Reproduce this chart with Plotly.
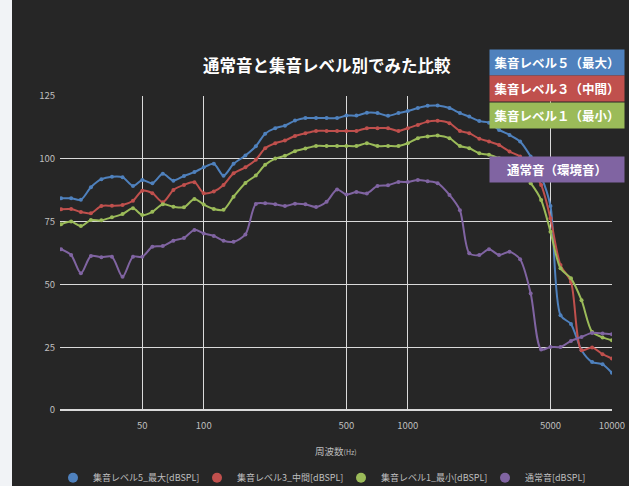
import plotly.graph_objects as go
import math

freq = [20, 22.4, 25, 28, 31.5, 35.5, 40, 45, 50, 56, 63, 71, 80, 90, 100, 112, 125, 140, 160, 180,
        200, 224, 250, 280, 315, 355, 400, 450, 500, 560, 630, 710, 800, 900, 1000, 1120, 1250, 1400,
        1600, 1800, 2000, 2240, 2500, 2800, 3150, 3550, 4000, 4500, 5000, 5600, 6300, 7100, 8000,
        9000, 10000]

level5 = [84.3, 84.3, 83.7, 88.7, 91.9, 92.9, 92.7, 89.2, 91.6, 90.3, 94.0, 91.3, 93.2, 94.7, 96.6,
          98.0, 93.3, 98.0, 101.3, 105.0, 110.0, 112.2, 113.2, 115.2, 116.2, 116.2, 116.2, 116.2,
          117.2, 117.2, 118.3, 118.2, 117.1, 118.2, 119.0, 120.2, 121.1, 121.2, 120.2, 118.2, 116.8,
          115.0, 114.4, 111.5, 109.5, 106.9, 100.9, 93.0, 81.2, 37.7, 34.2, 23.8, 19.1, 18.2, 14.8]

level3 = [79.9, 80.0, 78.8, 78.3, 81.2, 81.3, 81.6, 83.3, 87.3, 86.3, 82.7, 87.6, 89.6, 90.7, 86.3,
          87.0, 89.6, 94.2, 96.6, 99.6, 104.2, 106.2, 107.3, 109.1, 110.2, 111.1, 111.1, 111.1,
          111.1, 111.1, 112.2, 112.2, 112.2, 111.1, 112.2, 113.5, 114.8, 115.1, 114.2, 111.1, 110.2,
          108.0, 106.9, 105.5, 102.9, 100.9, 96.0, 89.6, 76.3, 57.7, 51.0, 23.8, 24.9, 22.2, 20.5]

level1 = [73.9, 75.0, 73.2, 75.6, 75.5, 76.7, 78.0, 80.3, 77.6, 78.9, 81.9, 80.9, 80.7, 84.0, 81.8,
          80.0, 79.7, 84.9, 90.4, 93.4, 97.6, 100.1, 101.2, 103.0, 104.1, 105.1, 105.1, 105.1,
          105.1, 105.1, 106.2, 105.1, 105.1, 105.1, 106.2, 108.2, 108.9, 109.3, 108.2, 105.1, 104.2,
          102.2, 101.6, 100.2, 98.0, 95.0, 90.3, 83.6, 71.0, 56.4, 52.4, 43.7, 31.1, 28.9, 27.8]

normal = [64.0, 61.7, 54.4, 61.3, 60.8, 61.0, 53.0, 61.0, 61.0, 65.0, 65.3, 67.4, 68.5, 71.7, 70.3,
          69.3, 67.4, 67.0, 69.9, 82.0, 82.3, 81.9, 81.2, 82.1, 81.9, 80.8, 82.9, 87.8, 85.8, 86.8,
          86.2, 89.2, 89.5, 90.8, 90.8, 91.6, 91.1, 90.3, 85.6, 79.5, 62.4, 61.7, 64.0, 61.7, 63.0,
          60.0, 46.4, 24.1, 25.1, 25.1, 27.5, 29.1, 30.7, 30.5, 30.2]

series_names = ["集音レベル5_最大[dBSPL]", "集音レベル3_中間[dBSPL]", "集音レベル1_最小[dBSPL]", "通常音[dBSPL]"]
box_labels = ["集音レベル５（最大）", "集音レベル３（中間）", "集音レベル１（最小）", "通常音（環境音）"]
title_text = "通常音と集音レベル別でみた比較"
x_title = "周波数"
x_ticks = [50, 100, 500, 1000, 5000, 10000]
y_ticks = [0, 25, 50, 75, 100, 125]

colors = ["#4F81BD", "#C0504D", "#9BBB59", "#8064A2"]
all_series = [level5, level3, level1, normal]

FONT = "Noto Sans CJK JP"
W, H = 629, 486
L, R, T, B = 60, 17, 96, 76
PW, PH = W - L - R, H - T - B


def px(xp):
    return (xp - L) / PW


def py(yp):
    return (H - B - yp) / PH


fig = go.Figure()

for name, vals, c in zip(series_names, all_series, colors):
    fig.add_trace(go.Scatter(
        x=freq, y=vals, mode="lines+markers", name=name, legendgroup=name, showlegend=False,
        line=dict(color=c, width=2, shape="spline", smoothing=0.8),
        marker=dict(color=c, size=4),
        hoverinfo="x+y",
    ))

for name, c in zip(series_names, colors):
    fig.add_trace(go.Scatter(
        x=[None], y=[None], mode="markers", name=name, legendgroup=name,
        marker=dict(color=c, size=10, symbol="circle"),
    ))

annotations = []
annotations.append(dict(
    text="<b>" + title_text + "</b>", xref="paper", yref="paper", x=px(327), y=py(65.5),
    showarrow=False, font=dict(family=FONT, size=16.5, color="#ffffff"),
    xanchor="center", yanchor="middle",
))

box_centers_y = [62.5, 88.8, 115.5, 169.2]
anchor_idx = [38, 39, 40, 39]
tail_y = [68.3, 93.3, 120.0, 176.7]
box_x0, box_x1 = 490, 624
for lab, c, cy in zip(box_labels, colors, box_centers_y):
    annotations.append(dict(
        text="<b>" + lab + "</b>", xref="paper", yref="paper",
        x=px((box_x0 + box_x1) / 2), y=py(cy), showarrow=False,
        xanchor="center", yanchor="middle",
        width=box_x1 - box_x0, height=25, borderpad=0,
        bgcolor=c, font=dict(family=FONT, size=12.5, color="#ffffff"),
    ))

xr0, xr1 = 1.2956, 4.0005
yr0, yr1 = 0, 125
for vals, c, k, ty in zip(all_series, colors, anchor_idx, tail_y):
    hx = L + (math.log10(freq[k]) - xr0) / (xr1 - xr0) * PW
    hy = T + (yr1 - vals[k]) / (yr1 - yr0) * PH
    annotations.append(dict(
        text="", x=freq[k], y=vals[k], xref="x", yref="y",
        showarrow=True, arrowhead=0, arrowwidth=1, arrowcolor=c,
        ax=box_x0 - hx, ay=ty - hy, axref="pixel", ayref="pixel", standoff=3,
    ))

annotations.append(dict(
    text=x_title + "<span style='font-size:7px'>(Hz)</span>", xref="paper", yref="paper",
    x=px(336), y=py(451), showarrow=False, xanchor="center", yanchor="middle",
    font=dict(family=FONT, size=9.5, color="#bfbfbf"),
))

fig.update_layout(
    width=W, height=H,
    margin=dict(l=L, r=R, t=T, b=B, pad=0, autoexpand=False),
    paper_bgcolor="#262626", plot_bgcolor="#262626",
    font=dict(family=FONT, size=9.5, color="#bfbfbf"),
    showlegend=True,
    legend=dict(
        orientation="h", x=px(53), y=py(477.7), xanchor="left", yanchor="middle",
        font=dict(family=FONT, size=9, color="#bfbfbf"),
        bgcolor="rgba(0,0,0,0)", entrywidth=99, entrywidthmode="pixels",
        itemclick=False, itemdoubleclick=False,
    ),
    annotations=annotations,
    shapes=[dict(
        type="rect", xref="paper", yref="paper",
        x0=px(-2), x1=px(12), y0=py(H + 2), y1=py(-2),
        fillcolor="#f1f3f6", line=dict(width=0), layer="above",
    )],
    hovermode="closest",
)

fig.update_xaxes(
    type="log", range=[xr0, xr1], tickvals=x_ticks, ticktext=[str(v) for v in x_ticks],
    showgrid=True, gridcolor="#d9d9d9", gridwidth=1, zeroline=False, showline=False,
    ticks="", tickfont=dict(family=FONT, size=9.5, color="#bfbfbf"), ticklabelstandoff=8,
)
fig.update_yaxes(
    range=[yr0, yr1], tickvals=y_ticks, showgrid=True, gridcolor="#d9d9d9", gridwidth=1,
    zeroline=True, zerolinecolor="#d9d9d9", zerolinewidth=2, showline=False,
    ticks="", tickfont=dict(family=FONT, size=9.5, color="#bfbfbf"), ticklabelstandoff=4,
)

fig.write_html("out.html", config={"displayModeBar": False},
               post_script="document.body.style.margin='0';")
